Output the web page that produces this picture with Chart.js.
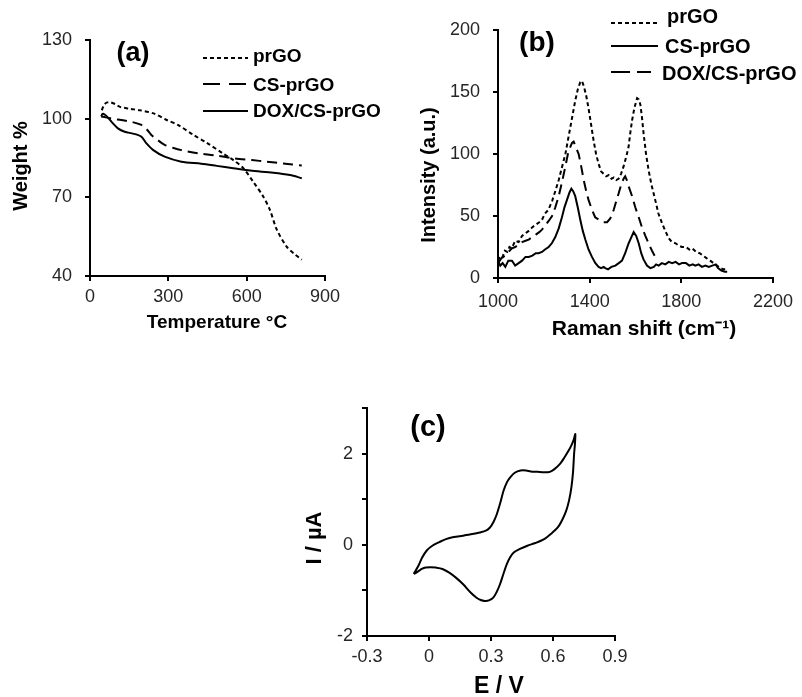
<!DOCTYPE html>
<html lang="en">
<head>
    <meta charset="UTF-8">
    <title>TGA, Raman and CV of prGO samples</title>
    <script src="https://cdn.jsdelivr.net/npm/chart.js"></script>
    <style>
        body { margin: 0; background: #fff; }
        .wrap { position: relative; width: 802px; height: 697px; }
        canvas { position: absolute; }
    </style>
</head>
<body>
<div class="wrap">
    <canvas id="tgaChart" width="400" height="345" style="left:0;top:0"></canvas>
    <canvas id="ramanChart" width="402" height="345" style="left:400px;top:0"></canvas>
    <canvas id="cvChart" width="350" height="317" style="left:290px;top:380px"></canvas>
</div>
<script>
    // (a) TGA - temperature (°C) vs weight %
    const tgaTempPrgo = [45, 55, 66, 77, 95, 115, 150, 191, 243, 294, 337, 396, 447, 511, 549, 587, 626, 664, 689, 715, 753, 785, 811];
    const tgaWeightPrgo = [103.2, 105.4, 106.2, 106.3, 105.6, 104.5, 103.8, 103.2, 102, 99.5, 97.6, 93.8, 90.8, 86.6, 84.2, 81.1, 75.8, 70.2, 65.2, 57.8, 51.2, 48.2, 46.2];
    const tgaTempCs = [43, 60, 88, 120, 158, 197, 215, 235, 260, 286, 320, 350, 414, 480, 549, 620, 677, 740, 811];
    const tgaWeightCs = [100.8, 100.5, 99.9, 99.5, 98.8, 97.6, 96.2, 93.8, 91.8, 90, 88.8, 88, 86.8, 86, 84.9, 84.2, 83.6, 82.9, 82.1];
    const tgaTempDox = [43, 48, 56, 69, 88, 107, 133, 160, 177, 197, 216, 241, 286, 350, 426, 485, 549, 613, 702, 766, 811];
    const tgaWeightDox = [100.8, 101.8, 101.6, 100.4, 98.2, 96.3, 95, 94.4, 94, 93.1, 90.6, 88.1, 85.5, 83.6, 82.8, 82, 81.1, 80.2, 79.4, 78.5, 77.3];

    // (b) Raman - shift (cm-1) vs intensity (a.u.)
    const ramanShiftPrgo = [1000, 1010, 1020, 1030, 1040, 1050, 1060, 1075, 1090, 1105, 1120, 1134, 1150, 1165, 1180, 1192, 1205, 1220, 1236, 1250, 1265, 1280, 1294, 1305, 1316, 1327, 1337, 1348, 1359, 1366, 1374, 1385, 1395, 1406, 1417, 1428, 1439, 1450, 1461, 1472, 1483, 1495, 1505, 1516, 1526, 1537, 1548, 1560, 1570, 1578, 1585, 1595, 1607, 1614, 1621, 1628, 1635, 1646, 1657, 1670, 1686, 1700, 1716, 1730, 1745, 1759, 1775, 1790, 1803, 1820, 1835, 1847, 1865, 1880, 1895, 1910, 1926, 1940, 1956, 1970, 1985, 2000];
    const ramanPrgo = [14, 18, 17, 22, 21, 25, 24, 30, 29, 34, 36, 38, 41, 43, 45, 47, 52, 55, 62, 70, 79, 90, 100, 111, 122, 133, 143, 152, 158, 159, 155, 147, 137, 124, 111, 100, 92, 86, 84, 82, 83, 80, 81, 79, 80, 84, 90, 98, 106, 118, 127, 137, 145, 144, 140, 130, 117, 100, 87, 75, 63, 52, 44, 38, 32, 29, 28, 26, 25, 25, 23, 24, 21, 20, 18, 16, 14, 12, 10, 8, 7, 7];
    const ramanShiftCs = [1000, 1010, 1020, 1032, 1045, 1061, 1075, 1090, 1105, 1120, 1134, 1150, 1165, 1177, 1192, 1205, 1221, 1235, 1250, 1265, 1279, 1290, 1301, 1312, 1320, 1328, 1337, 1348, 1359, 1370, 1381, 1395, 1410, 1425, 1439, 1450, 1461, 1468, 1480, 1495, 1512, 1527, 1541, 1555, 1570, 1582, 1592, 1603, 1614, 1625, 1635, 1650, 1665, 1680, 1690, 1701, 1715, 1730, 1745, 1760, 1775, 1790, 1803, 1820, 1835, 1850, 1861, 1875, 1890, 1905, 1920, 1935, 1950, 1960, 1975, 1990, 2000];
    const ramanCs = [14, 10, 12, 9, 14, 14, 10, 12, 14, 17, 17, 18, 20, 20, 21, 23, 25, 28, 33, 40, 49, 57, 63, 69, 72, 70, 66, 57, 47, 38, 31, 23, 17, 12, 9, 8, 9, 8, 7, 9, 10, 12, 14, 20, 28, 33, 37, 34, 28, 20, 15, 10, 8, 9, 11, 10, 12, 11, 13, 12, 13, 11, 12, 12, 10, 11, 10, 11, 9, 10, 9, 10, 11, 8, 6, 5, 5];
    const ramanShiftDox = [1000, 1015, 1030, 1045, 1061, 1075, 1090, 1105, 1120, 1134, 1150, 1165, 1180, 1192, 1205, 1221, 1236, 1250, 1265, 1280, 1294, 1305, 1316, 1323, 1330, 1341, 1352, 1363, 1374, 1385, 1395, 1410, 1424, 1440, 1461, 1476, 1490, 1505, 1516, 1526, 1537, 1548, 1555, 1562, 1570, 1585, 1599, 1614, 1628, 1643, 1657, 1672, 1686, 1695];
    const ramanDox = [12, 16, 18, 21, 24, 25, 27, 29, 30, 31, 33, 35, 37, 39, 42, 46, 50, 57, 66, 78, 90, 100, 106, 109, 110, 105, 100, 90, 79, 70, 63, 55, 49, 47, 45, 45, 48, 55, 62, 68, 75, 80, 82, 79, 74, 66, 57, 49, 41, 34, 28, 22, 17, 15];

    // (c) cyclic voltammogram - E (V) vs I (µA), in scan order
    const cvE = [-0.074, -0.05, -0.033, -0.01, 0.016, 0.05, 0.082, 0.12, 0.164, 0.21, 0.246, 0.275, 0.295, 0.312, 0.328, 0.345, 0.361, 0.378, 0.393, 0.415, 0.443, 0.47, 0.492, 0.525, 0.557, 0.585, 0.607, 0.635, 0.656, 0.675, 0.689, 0.70, 0.708,
        0.706, 0.702, 0.697, 0.689, 0.678, 0.664, 0.645, 0.623, 0.59, 0.557, 0.515, 0.476, 0.44, 0.41, 0.392, 0.377, 0.36, 0.344, 0.328, 0.311, 0.29, 0.27, 0.25, 0.23, 0.2, 0.164, 0.13, 0.098, 0.065, 0.033, 0.008, -0.016, -0.035, -0.049, -0.062, -0.074];
    const cvI = [-0.64, -0.45, -0.28, -0.12, -0.02, 0.06, 0.125, 0.17, 0.2, 0.235, 0.27, 0.31, 0.38, 0.5, 0.67, 0.92, 1.19, 1.38, 1.48, 1.58, 1.63, 1.63, 1.61, 1.6, 1.59, 1.6, 1.66, 1.78, 1.92, 2.06, 2.18, 2.3, 2.43,
        2.2, 1.99, 1.6, 1.26, 0.98, 0.75, 0.55, 0.38, 0.24, 0.125, 0.04, -0.02, -0.09, -0.17, -0.28, -0.42, -0.64, -0.86, -1.03, -1.16, -1.22, -1.23, -1.21, -1.16, -1.04, -0.86, -0.72, -0.61, -0.53, -0.5, -0.49, -0.5, -0.53, -0.57, -0.61, -0.64];

    const FONT = '"Liberation Sans", Arial, sans-serif';
    const DOTS = [4, 3];
    const DASH = [10, 6];

    function pts(xs, ys) {
        return xs.map((x, i) => ({ x: x, y: ys[i] }));
    }

    function line(label, xs, ys, dash, legendDash, tension) {
        return {
            label: label,
            data: pts(xs, ys),
            borderColor: '#000',
            borderWidth: 2,
            borderDash: dash,
            legendDash: legendDash,
            pointRadius: 0,
            showLine: true,
            tension: tension
        };
    }

    // plain axis look: black border, outside tick marks, no grid
    function axis(min, max, step, width, height, pad, fmt) {
        return {
            type: 'linear',
            min: min,
            max: max,
            ticks: { stepSize: step, padding: pad, color: '#262626', font: { family: FONT, size: 18 }, callback: fmt },
            grid: { drawOnChartArea: false, tickLength: 5, color: '#000', lineWidth: 2 },
            border: { color: '#000', width: 2 },
            afterFit: s => { if (width) s.width = width; if (height) s.height = height; }
        };
    }

    // draws the panel letter, axis titles and the in-plot legend
    const panelText = {
        id: 'panelText',
        afterDraw(chart, args, o) {
            const ctx = chart.ctx;
            ctx.save();
            ctx.fillStyle = '#000';
            ctx.strokeStyle = '#000';
            ctx.textBaseline = 'middle';
            chart.data.datasets.forEach((ds, i) => {
                const e = o.legend[i];
                ctx.lineWidth = 2;
                ctx.setLineDash(ds.legendDash || []);
                ctx.beginPath();
                ctx.moveTo(e.x0, e.ly);
                ctx.lineTo(e.x1, e.ly);
                ctx.stroke();
                ctx.setLineDash([]);
                ctx.font = o.legendFont;
                ctx.textAlign = 'left';
                ctx.fillText(ds.label, e.tx, e.ty);
            });
            o.items.forEach(t => {
                ctx.save();
                ctx.font = t.font;
                ctx.textAlign = 'center';
                ctx.translate(t.x, t.y);
                if (t.rot) ctx.rotate(t.rot);
                ctx.fillText(t.text, 0, 0);
                ctx.restore();
            });
            ctx.restore();
        }
    };

    const baseOpts = {
        responsive: false,
        animation: false,
        plugins: { legend: { display: false }, tooltip: { enabled: false } }
    };

    new Chart(document.getElementById('tgaChart'), {
        type: 'scatter',
        data: {
            datasets: [
                line('prGO', tgaTempPrgo, tgaWeightPrgo, DOTS, DOTS, 0.3),
                line('CS-prGO', tgaTempCs, tgaWeightCs, DASH, [17, 9], 0.3),
                line('DOX/CS-prGO', tgaTempDox, tgaWeightDox, [], [], 0.3)
            ]
        },
        options: Object.assign({}, baseOpts, {
            layout: { padding: { left: 0, top: 40, right: 75, bottom: 0 } },
            scales: {
                x: axis(0, 900, 300, 0, 69, 5),
                y: axis(40, 130, 30, 90, 0, 13)
            },
            plugins: Object.assign({}, baseOpts.plugins, {
                panelText: {
                    legendFont: 'bold 19px ' + FONT,
                    legend: [
                        { x0: 203, x1: 248, ly: 58, tx: 253, ty: 57 },
                        { x0: 203, x1: 248, ly: 84, tx: 253, ty: 86 },
                        { x0: 203, x1: 248, ly: 111, tx: 253, ty: 112 }
                    ],
                    items: [
                        { text: '(a)', x: 133, y: 54, font: 'bold 27px ' + FONT },
                        { text: 'Weight %', x: 21, y: 166, rot: -Math.PI / 2, font: 'bold 20px ' + FONT },
                        { text: 'Temperature °C', x: 217, y: 323, font: 'bold 19px ' + FONT }
                    ]
                }
            })
        }),
        plugins: [panelText]
    });

    new Chart(document.getElementById('ramanChart'), {
        type: 'scatter',
        data: {
            datasets: [
                line('prGO', ramanShiftPrgo, ramanPrgo, DOTS, DOTS, 0),
                line('CS-prGO', ramanShiftCs, ramanCs, [], [], 0),
                line('DOX/CS-prGO', ramanShiftDox, ramanDox, DASH, [19, 7], 0)
            ]
        },
        options: Object.assign({}, baseOpts, {
            layout: { padding: { left: 0, top: 30, right: 29, bottom: 0 } },
            scales: {
                x: axis(1000, 2200, 400, 0, 67, 8),
                y: axis(0, 200, 50, 98, 0, 13)
            },
            plugins: Object.assign({}, baseOpts.plugins, {
                panelText: {
                    legendFont: 'bold 20px ' + FONT,
                    legend: [
                        { x0: 211, x1: 257, ly: 23, tx: 267, ty: 17 },
                        { x0: 211, x1: 258, ly: 46, tx: 265, ty: 47 },
                        { x0: 211, x1: 251, ly: 72, tx: 262, ty: 74 }
                    ],
                    items: [
                        { text: '(b)', x: 137, y: 43, font: 'bold 28px ' + FONT },
                        { text: 'Intensity (a.u.)', x: 29, y: 175, rot: -Math.PI / 2, font: 'bold 20px ' + FONT },
                        { text: 'Raman shift (cm⁻¹)', x: 244, y: 329, font: 'bold 21px ' + FONT }
                    ]
                }
            })
        }),
        plugins: [panelText]
    });

    new Chart(document.getElementById('cvChart'), {
        type: 'scatter',
        data: {
            datasets: [line('', cvE, cvI, [], [], 0.3)]
        },
        options: Object.assign({}, baseOpts, {
            layout: { padding: { left: 0, top: 28, right: 25, bottom: 0 } },
            scales: {
                x: axis(-0.3, 0.9, 0.3, 0, 61, 5, v => String(Number(v.toFixed(1)))),
                y: axis(-2, 3, 1, 77, 0, 9, v => (Math.round(v) % 2 === 0 && v < 3 ? String(Math.round(v)) : ''))
            },
            plugins: Object.assign({}, baseOpts.plugins, {
                panelText: {
                    legendFont: 'bold 20px ' + FONT,
                    legend: [{ x0: 0, x1: 0, ly: -10, tx: 0, ty: -10 }],
                    items: [
                        { text: '(c)', x: 138, y: 48, font: 'bold 29px ' + FONT },
                        { text: 'I / µA', x: 25, y: 158, rot: -Math.PI / 2, font: 'bold 22px ' + FONT },
                        { text: 'E / V', x: 209, y: 307, font: 'bold 23px ' + FONT }
                    ]
                }
            })
        }),
        plugins: [panelText]
    });
</script>
</body>
</html>
